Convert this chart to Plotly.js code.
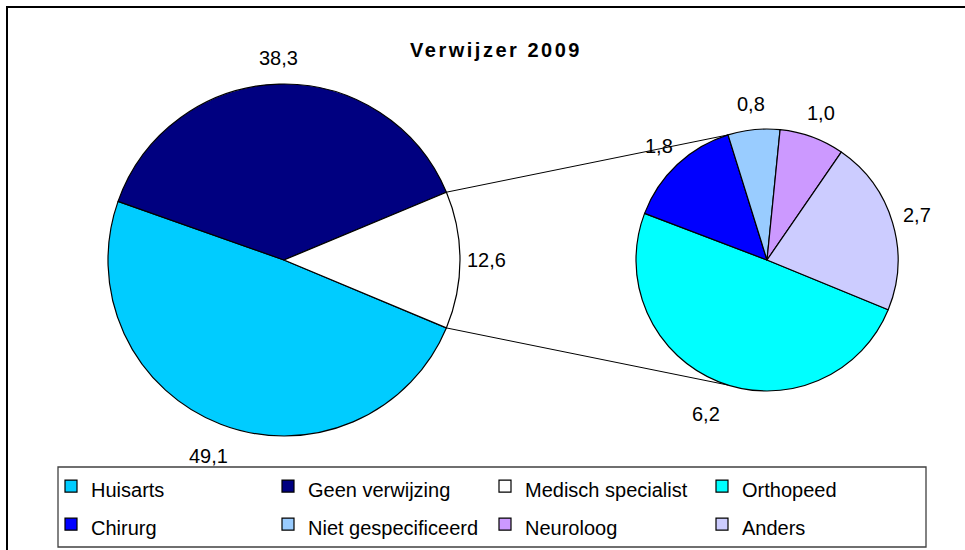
<!DOCTYPE html>
<html>
<head>
<meta charset="utf-8">
<script src="https://cdn.plot.ly/plotly-3.0.1.min.js"></script>
<style>
html,body{margin:0;padding:0;background:#fff;}
#chart{width:965px;height:550px;}
.gtitle{letter-spacing:2.5px;}
</style>
</head>
<body>
<div id="chart"></div>
<script>
// ---- data ----
var mainLabels = ['Huisarts', 'Geen verwijzing', 'Medisch specialist'];
var mainValues = [49.1, 38.3, 12.6];
var mainColors = ['#00CCFF', '#000080', '#FFFFFF'];

var subLabels = ['Orthopeed', 'Chirurg', 'Niet gespecificeerd', 'Neuroloog', 'Anders'];
var subValues = [6.2, 1.8, 0.8, 1.0, 2.7];
var subColors = ['#00FFFF', '#0000FF', '#99CCFF', '#CC99FF', '#CCCCFF'];

var chartTitle = 'Verwijzer 2009';

// ---- geometry (pixels, margins are 0) ----
var W = 965, H = 550;
var big = {cx: 284, cy: 260, r: 176, rot: 112.7};
var small = {cx: 767, cy: 260, r: 131, rot: 112.3};
var FONT = 'Liberation Sans, Arial, sans-serif';

function domainOf(p) {
  return {
    x: [(p.cx - p.r) / W, (p.cx + p.r) / W],
    y: [(H - p.cy - p.r) / H, (H - p.cy + p.r) / H]
  };
}
function px(x) { return x / W; }
function py(y) { return 1 - y / H; }
function sum(a) { return a.reduce(function (s, v) { return s + v; }, 0); }
function pointAt(p, clockDeg, rr) {
  var a = clockDeg * Math.PI / 180;
  var R = rr === undefined ? p.r : rr;
  return [p.cx + R * Math.sin(a), p.cy - R * Math.cos(a)];
}
function fmt(v) { return v.toFixed(1).replace('.', ','); }

function wrapLegend(arr) {
  return arr.map(function (s) { return '<span style="font-size:20px">' + s + '</span>'; });
}

var common = {
  type: 'pie',
  sort: false,
  direction: 'clockwise',
  textinfo: 'none',
  hoverinfo: 'label+value',
  showlegend: true
};

var trace1 = Object.assign({}, common, {
  labels: wrapLegend(mainLabels),
  values: mainValues,
  rotation: big.rot,
  domain: domainOf(big),
  marker: {colors: mainColors, line: {color: '#000', width: 1.2}}
});
var trace2 = Object.assign({}, common, {
  labels: wrapLegend(subLabels),
  values: subValues,
  rotation: small.rot,
  domain: domainOf(small),
  marker: {colors: subColors, line: {color: '#000', width: 1.2}}
});

// value labels placed outside, along each slice's bisector
function labelAnnotations(p, vals) {
  var s = sum(vals), cum = 0, out = [];
  vals.forEach(function (v) {
    var mid = p.rot + 360 * (cum + v / 2) / s;
    cum += v;
    var down = Math.max(0, -Math.cos(mid * Math.PI / 180));
    var pos = pointAt(p, mid, p.r + 26 + 9 * down);
    out.push({
      xref: 'paper', yref: 'paper', x: px(pos[0]), y: py(pos[1]),
      xanchor: 'center', yanchor: 'middle', showarrow: false,
      text: fmt(v), font: {family: FONT, size: 20, color: '#000'}
    });
  });
  return out;
}
var annotations = labelAnnotations(big, mainValues).concat(labelAnnotations(small, subValues));

// connector lines derived from slice boundaries
var s1 = sum(mainValues), s2 = sum(subValues);
var aTopBig = big.rot + 360 * (mainValues[0] + mainValues[1]) / s1;
var aBotBig = big.rot;
var aTopSmall = small.rot + 360 * (subValues[0] + subValues[1]) / s2;
var aBotSmall = 180 - aTopSmall;
var pTB = pointAt(big, aTopBig), pBB = pointAt(big, aBotBig);
var pTS = pointAt(small, aTopSmall), pBS = pointAt(small, aBotSmall);

var shapes = [
  // outer frame (top + left visible)
  {type: 'path', xref: 'paper', yref: 'paper',
   path: 'M ' + px(7) + ' ' + py(600) + ' L ' + px(7) + ' ' + py(7) + ' L ' + px(1000) + ' ' + py(7),
   line: {color: '#000', width: 2}},
  // legend box
  {type: 'rect', xref: 'paper', yref: 'paper',
   x0: px(58), x1: px(926), y0: py(547), y1: py(467),
   line: {color: '#404040', width: 1.3}},
  // connectors
  {type: 'line', xref: 'paper', yref: 'paper', layer: 'below',
   x0: px(pTB[0]), y0: py(pTB[1]), x1: px(pTS[0]), y1: py(pTS[1]),
   line: {color: '#000', width: 1}},
  {type: 'line', xref: 'paper', yref: 'paper', layer: 'below',
   x0: px(pBB[0]), y0: py(pBB[1]), x1: px(pBS[0]), y1: py(pBS[1]),
   line: {color: '#000', width: 1}}
];

var layout = {
  width: W, height: H,
  margin: {l: 0, r: 0, t: 0, b: 0},
  paper_bgcolor: '#fff',
  plot_bgcolor: '#fff',
  separators: ', ',
  font: {family: FONT, color: '#000'},
  title: {
    text: chartTitle,
    font: {family: FONT, size: 20, weight: 'bold', color: '#000'},
    x: px(496), xanchor: 'center', y: py(50), yanchor: 'middle'
  },
  legend: {
    orientation: 'h',
    x: px(51), xanchor: 'left',
    y: py(462), yanchor: 'top',
    font: {family: FONT, size: 27, color: '#000'},
    entrywidth: 172, entrywidthmode: 'pixels',
    bgcolor: 'rgba(0,0,0,0)', borderwidth: 0,
    traceorder: 'normal'
  },
  annotations: annotations,
  shapes: shapes
};

Plotly.newPlot('chart', [trace1, trace2], layout, {displayModeBar: false, staticPlot: true});
</script>
</body>
</html>
